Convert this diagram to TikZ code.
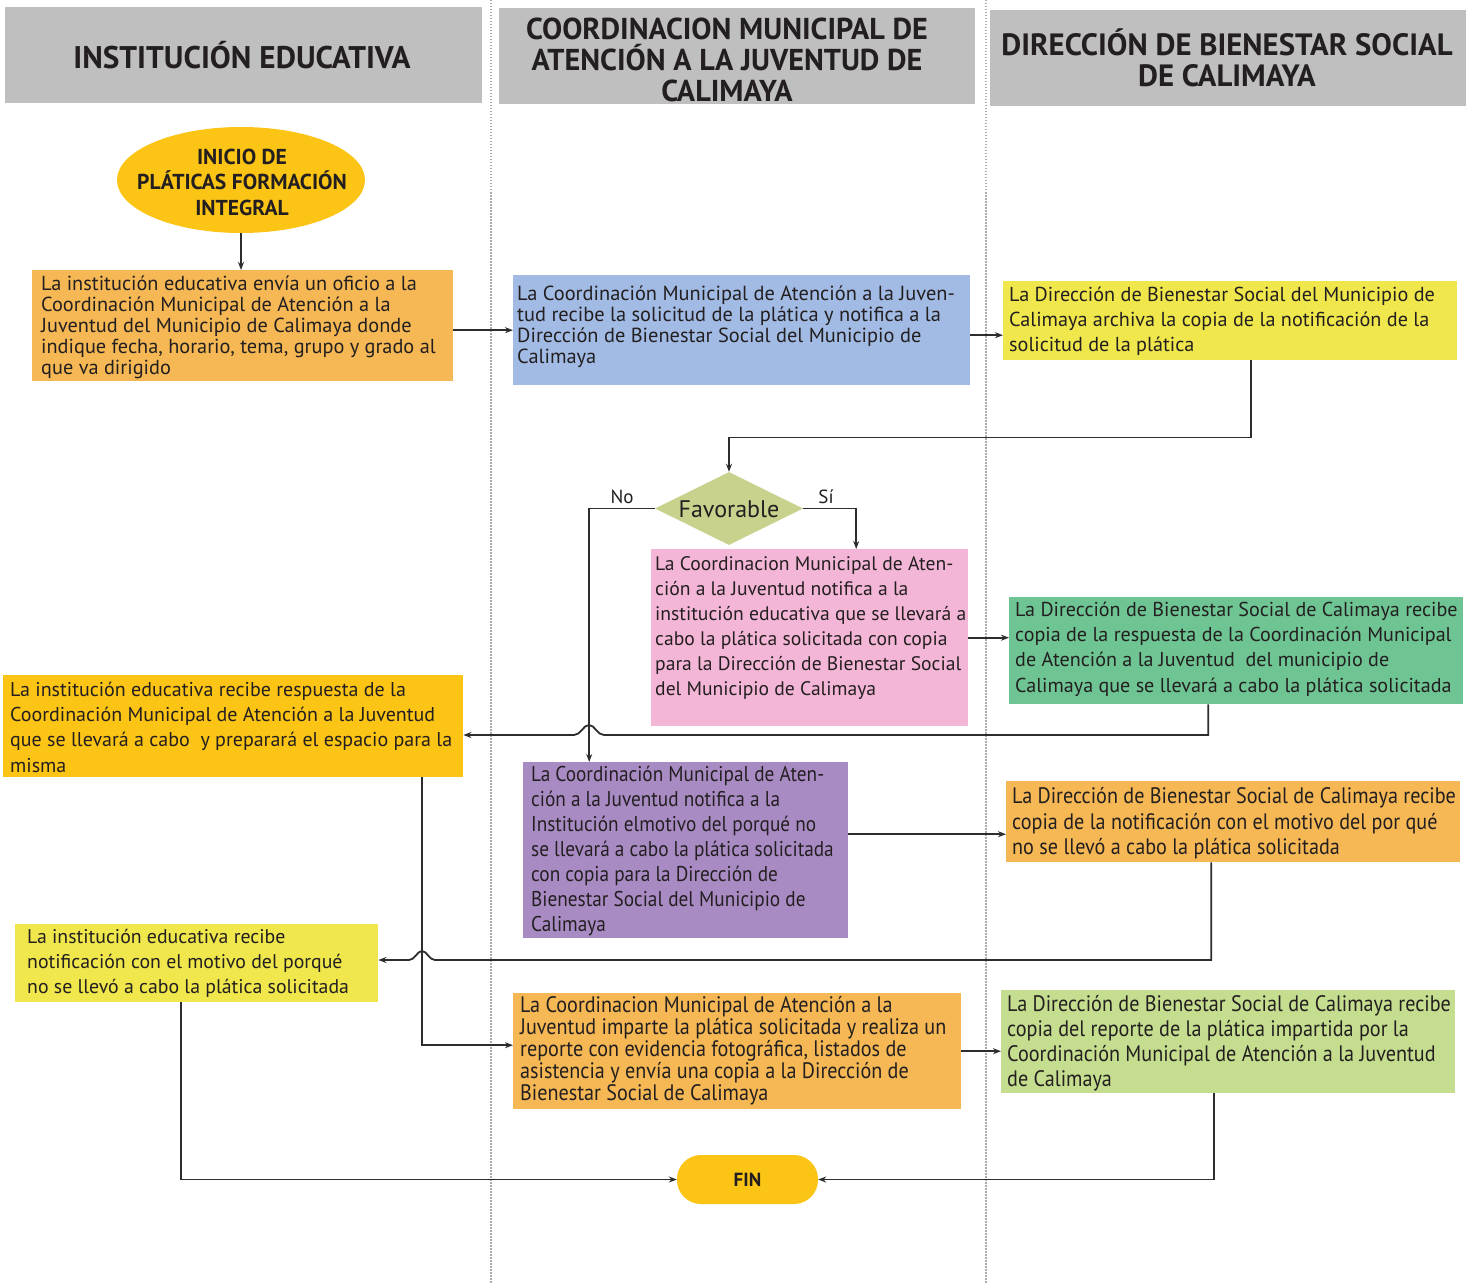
\documentclass[tikz,border=0pt]{standalone}
\usepackage{fontspec}
\setmainfont{PT Sans}
\newfontfamily\condf[FakeStretch=0.9]{PT Sans}
\usetikzlibrary{shapes.geometric,arrows.meta,calc}
\definecolor{hdrgray}{RGB}{191,191,191}
\definecolor{cOr}{RGB}{245,184,84}
\definecolor{cBlue}{RGB}{162,187,228}
\definecolor{cYel}{RGB}{239,231,75}
\definecolor{cPink}{RGB}{244,182,214}
\definecolor{cGreen}{RGB}{110,196,146}
\definecolor{cGold}{RGB}{252,196,20}
\definecolor{cPurp}{RGB}{169,139,196}
\definecolor{cLGreen}{RGB}{197,221,142}
\definecolor{cDia}{RGB}{200,210,140}
\definecolor{cLine}{RGB}{45,45,45}
\definecolor{cText}{RGB}{35,31,32}
\begin{document}
\begin{tikzpicture}[x=1pt,y=-1pt,
  hdr/.style={fill=hdrgray,draw=none,inner sep=0pt},
  hdrtxt/.style={inner sep=0pt,align=center,text=cText},
  boxfill/.style={draw=none,inner sep=0pt,anchor=north west},
  txt/.style={inner sep=0pt,anchor=west,align=left,text=cText},
  conn/.style={draw=cLine,line width=1.8pt,-{Stealth[length=8pt,width=6pt]}},
  lbl/.style={inner sep=0pt,text=cText,font=\fontsize{19}{21}\selectfont}]
\useasboundingbox (0,0) rectangle (1475,1284);
\fill[white] (0,0) rectangle (1475,1284);
% lane separators
\draw[gray!65,line width=1.2pt,dash pattern=on 1.5pt off 1.5pt] (491,0) -- (491,1284);
\draw[gray!65,line width=1.2pt,dash pattern=on 1.5pt off 1.5pt] (986,0) -- (986,1284);
% headers
\node[hdr,minimum width=477pt,minimum height=96pt] (h1) at (243.5,55) {};
\node[hdrtxt,font=\bfseries\fontsize{31.3}{31}\selectfont] (h1t) at (242,55) {INSTITUCIÓN EDUCATIVA};
\node[hdr,minimum width=476pt,minimum height=96pt] (h2) at (737,56) {};
\node[hdrtxt,font=\bfseries\fontsize{30.2}{31}\selectfont] (h2t) at (727,60) {COORDINACION MUNICIPAL DE\\ATENCIÓN A LA JUVENTUD DE\\CALIMAYA};
\node[hdr,minimum width=476pt,minimum height=96pt] (h3) at (1228,58) {};
\node[hdrtxt,font=\bfseries\fontsize{30.8}{31}\selectfont] (h3t) at (1227,57.5) {DIRECCIÓN DE BIENESTAR SOCIAL\\DE CALIMAYA};
% start
\node[ellipse,fill=cGold,draw=none,minimum width=248pt,minimum height=106pt,inner sep=0pt] (start) at (241,180) {};
\node[inner sep=0pt,align=center,text=cText,font=\bfseries\fontsize{21.6}{25.5}\selectfont] (startt) at (242,182) {INICIO DE\\PLÁTICAS FORMACIÓN\\INTEGRAL};
% box 1
\node[boxfill,fill=cOr,minimum width=421pt,minimum height=111pt] (b1) at (32,270) {};
\node[txt,font=\fontsize{20.3}{21}\selectfont] (b1t) at (41,327) {La institución educativa envía un oficio a la\\Coordinación Municipal de Atención a la\\Juventud del Municipio de Calimaya donde\\indique fecha, horario, tema, grupo y grado al\\que va dirigido};
% box 2
\node[boxfill,fill=cBlue,minimum width=457pt,minimum height=110pt] (b2) at (513,275) {};
\node[txt,font=\fontsize{20.4}{21}\selectfont] (b2t) at (517,326.5) {La Coordinación Municipal de Atención a la Juven-\\tud recibe la solicitud de la plática y notifica a la\\Dirección de Bienestar Social del Municipio de\\Calimaya};
% box 3
\node[boxfill,fill=cYel,minimum width=454pt,minimum height=79pt] (b3) at (1003,281) {};
\node[txt,font=\fontsize{20.2}{25}\selectfont] (b3t) at (1009,321) {La Dirección de Bienestar Social del Municipio de\\Calimaya archiva la copia de la notificación de la\\solicitud de la plática};
% decision
\node[diamond,fill=cDia,draw=none,minimum width=148pt,minimum height=73pt,inner sep=0pt] (dec) at (729,508.5) {};
\node[inner sep=0pt,text=cText,font=\fontsize{24}{25}\selectfont] (dect) at (729,509) {Favorable};
\node[lbl] (no) at (622,497) {No};
\node[lbl] (si) at (826,497) {Sí};
% pink
\node[boxfill,fill=cPink,minimum width=317pt,minimum height=177pt] (pk) at (651,549) {};
\node[txt,font=\fontsize{19.6}{25}\selectfont] (pkt) at (655,628.5) {La Coordinacion Municipal de Aten-\\ción a la Juventud notifica a la\\institución educativa que se llevará a\\cabo la plática solicitada con copia\\para la Dirección de Bienestar Social\\del Municipio de Calimaya};
% green
\node[boxfill,fill=cGreen,minimum width=454pt,minimum height=107pt] (gr) at (1009,597) {};
\node[txt,font=\fontsize{20.1}{25.3}\selectfont] (grt) at (1015,649) {La Dirección de Bienestar Social de Calimaya recibe\\copia de la respuesta de la Coordinación Municipal\\de Atención a la Juventud\ \ del municipio de\\Calimaya que se llevará a cabo la plática solicitada};
% orange 2 (gold)
\node[boxfill,fill=cGold,minimum width=460pt,minimum height=102pt] (o2) at (3,675) {};
\node[txt,font=\fontsize{20}{25.3}\selectfont] (o2t) at (10,727) {La institución educativa recibe respuesta de la\\Coordinación Municipal de Atención a la Juventud\\que se llevará a cabo\ \ y preparará el espacio para la\\misma};
% purple
\node[boxfill,fill=cPurp,minimum width=325pt,minimum height=176pt] (pu) at (523,762) {};
\node[txt,font=\condf\fontsize{21.4}{25}\selectfont] (put) at (531,851) {La Coordinación Municipal de Aten-\\ción a la Juventud notifica a la\\Institución elmotivo del porqué no\\se llevará a cabo la plática solicitada\\con copia para la Dirección de\\Bienestar Social del Municipio de\\Calimaya};
% orange 3
\node[boxfill,fill=cOr,minimum width=454pt,minimum height=81pt] (o3) at (1006,781) {};
\node[txt,font=\condf\fontsize{22.4}{25.5}\selectfont] (o3t) at (1012,823.5) {La Dirección de Bienestar Social de Calimaya recibe\\copia de la notificación con el motivo del por qué\\no se llevó a cabo la plática solicitada};
% yellow 2
\node[boxfill,fill=cYel,minimum width=363pt,minimum height=78pt] (y2) at (15,924) {};
\node[txt,font=\fontsize{19.8}{25}\selectfont] (y2t) at (27,963) {La institución educativa recibe\\notificación con el motivo del porqué\\no se llevó a cabo la plática solicitada};
% lower orange
\node[boxfill,fill=cOr,minimum width=448pt,minimum height=116pt] (lo) at (513,993) {};
\node[txt,font=\condf\fontsize{22.4}{22}\selectfont] (lot) at (520,1051) {La Coordinacion Municipal de Atención a la\\Juventud imparte la plática solicitada y realiza un\\reporte con evidencia fotográfica, listados de\\asistencia y envía una copia a la Dirección de\\Bienestar Social de Calimaya};
% light green
\node[boxfill,fill=cLGreen,minimum width=454pt,minimum height=103pt] (lg) at (1001,990) {};
\node[txt,font=\condf\fontsize{22.4}{25}\selectfont] (lgt) at (1007,1043.5) {La Dirección de Bienestar Social de Calimaya recibe\\copia del reporte de la plática impartida por la\\Coordinación Municipal de Atención a la Juventud\\de Calimaya};
% FIN
\node[draw=none,fill=cGold,rounded corners=24pt,minimum width=141pt,minimum height=49pt,inner sep=0pt,text=cText,font=\bfseries\fontsize{19}{21}\selectfont] (fin) at (747.5,1179.5) {FIN};
% hop coordinates
\coordinate (hopA) at (589,735);
\coordinate (hopB) at (422,960);
% connectors
\draw[conn] (start.south) -- (start.south |- b1.north);
\draw[conn] (b1.east |- b2.west) -- (b2.west);
\draw[conn] ([yshift=-5pt]b2.east) -- ([yshift=-5pt]b2.east -| b3.west);
\draw[conn] ([xshift=21pt]b3.south) -- ++(0,77) -| (dec.north);
\draw[conn] (dec.east) -| ([xshift=46.5pt]pk.north);
\draw[conn] (dec.west) -| ([xshift=-96.5pt]pu.north);
\draw[conn] (pk.east) -- (pk.east -| gr.west);
\draw[conn] ([xshift=-28pt]gr.south) |- ([xshift=15pt]hopA)
  .. controls +(-7,0) and +(6,0) .. ([yshift=10pt]hopA)
  .. controls +(-6,0) and +(7,0) .. ([xshift=-15pt]hopA)
  -- (o2.east |- hopA);
\draw[conn] ([xshift=189pt]o2.south) |- ([yshift=6pt]lo.west);
\draw[conn] ([yshift=16pt]pu.east) -- ([yshift=16pt]pu.east -| o3.west);
\draw[conn] ([xshift=-22pt]o3.south) |- ([xshift=13pt]hopB)
  .. controls +(-6,0) and +(5,0) .. ([yshift=9pt]hopB)
  .. controls +(-5,0) and +(6,0) .. ([xshift=-13pt]hopB)
  -- (y2.east |- hopB);
\draw[conn] ([xshift=-15.5pt]y2.south) |- (fin.west);
\draw[conn] (lo.east) -- (lo.east -| lg.west);
\draw[conn] ([xshift=-14pt]lg.south) |- (fin.east);
\end{tikzpicture}
\end{document}
